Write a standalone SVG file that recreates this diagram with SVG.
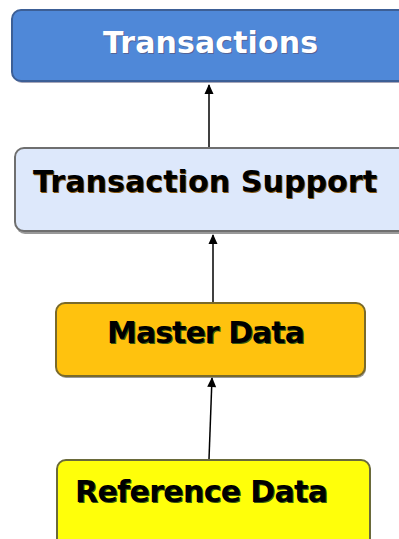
<svg xmlns="http://www.w3.org/2000/svg" width="399" height="539" viewBox="0 0 399 539">
<style>
.box{stroke-width:2}
.lbl{font-family:"DejaVu Sans",Verdana,sans-serif;font-weight:bold;font-size:30px;text-anchor:middle}
.conn{stroke:#000;stroke-width:1.5;fill:none}
</style>
<defs>
<marker id="ah" viewBox="0 0 10 10" refX="9" refY="5" markerWidth="11" markerHeight="10" markerUnits="userSpaceOnUse" orient="auto">
<path d="M0,0.5 L10,5 L0,9.5 z" fill="#000"/>
</marker>
</defs>
<rect width="399" height="539" fill="#fff"/>
<g id="connectors">
<line class="conn" x1="209" y1="151" x2="209" y2="85" marker-end="url(#ah)"/>
<line class="conn" x1="213" y1="302" x2="213" y2="235" marker-end="url(#ah)"/>
<line class="conn" x1="209" y1="459" x2="212" y2="378" marker-end="url(#ah)"/>
</g>
<g id="transactions">
<rect x="13" y="12" width="396" height="71" rx="9" fill="#6b6b8a" opacity="0.6"/>
<rect class="box" x="12" y="10" width="396" height="71" rx="9" fill="#4f88d8" stroke="#3c5f96"/>
<text class="lbl" x="211.5" y="53.5" fill="#5a4a6a" opacity="0.6" textLength="215">Transactions</text>
<text class="lbl" x="210.5" y="52.5" fill="#fff" textLength="215">Transactions</text>
</g>
<g id="transaction-support">
<rect x="16" y="150" width="396" height="84" rx="9" fill="#555" opacity="0.6"/>
<rect class="box" x="15" y="148" width="396" height="83" rx="9" fill="#dde8fb" stroke="#6f6f6f"/>
<text class="lbl" x="206" y="193" fill="#8a5a10" textLength="344">Transaction Support</text>
<text class="lbl" x="205" y="192" fill="#000" textLength="344">Transaction Support</text>
</g>
<g id="master-data">
<rect x="57" y="305" width="309" height="73" rx="9" fill="#555" opacity="0.6"/>
<rect class="box" x="56" y="303" width="309" height="73" rx="9" fill="#ffc20e" stroke="#7a6a2a"/>
<text class="lbl" x="207" y="344" fill="#3a5a10" textLength="198">Master Data</text>
<text class="lbl" x="206" y="343" fill="#000" textLength="198">Master Data</text>
</g>
<g id="reference-data">
<rect x="58" y="462" width="313" height="90" rx="9" fill="#555" opacity="0.6"/>
<rect class="box" x="57" y="460" width="313" height="90" rx="9" fill="#ffff0a" stroke="#6a6a3a"/>
<text class="lbl" x="202.5" y="503" fill="#3a5a10" textLength="253">Reference Data</text>
<text class="lbl" x="201.5" y="502" fill="#000" textLength="253">Reference Data</text>
</g>
</svg>
